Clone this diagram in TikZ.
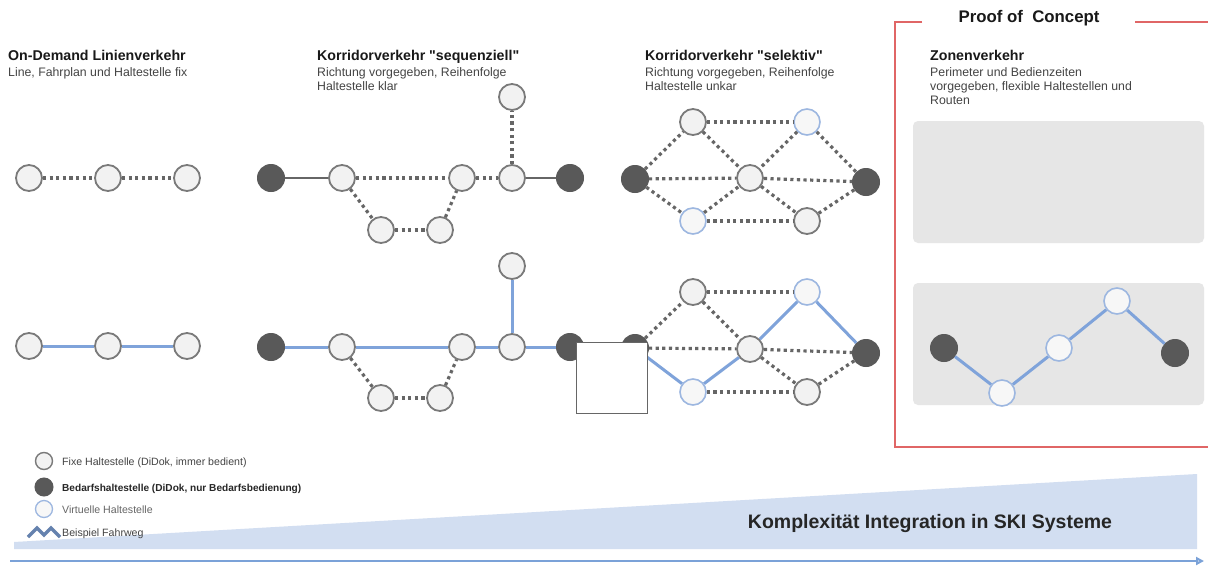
\documentclass[tikz,border=0pt]{standalone}
\usepackage{fontspec}
\setmainfont{Liberation Sans}[Ligatures=TeXOff]
\usetikzlibrary{arrows.meta}
\definecolor{stopfill}{HTML}{F2F2F2}
\definecolor{stopline}{HTML}{7A7A7A}
\definecolor{darkstop}{HTML}{595959}
\definecolor{virtline}{HTML}{9DB7E0}
\definecolor{routeblue}{HTML}{7FA3DA}
\definecolor{linkgray}{HTML}{666666}
\definecolor{zonegray}{HTML}{E6E6E6}
\definecolor{pocred}{HTML}{E06666}
\definecolor{wedgeblue}{HTML}{D2DEF1}
\definecolor{arrowblue}{HTML}{7BA2D8}
\definecolor{subtext}{HTML}{444444}
\tikzset{
  fixstop/.style={circle, minimum size=26pt, inner sep=0pt, line width=1.8pt, draw=stopline, fill=stopfill},
  demandstop/.style={circle, minimum size=27pt, inner sep=0pt, line width=1pt, draw=darkstop, fill=darkstop},
  virtstop/.style={circle, minimum size=26pt, inner sep=0pt, line width=1.6pt, draw=virtline, fill=stopfill!60!white},
  optlink/.style={draw=linkgray, line width=3.2pt, dash pattern=on 3.2pt off 3.4pt},
  fixlink/.style={draw=linkgray, line width=2.8pt},
  route/.style={draw=routeblue, line width=3pt},
  headline/.style={anchor=base west, inner sep=0pt, font=\fontsize{14.2}{17}\selectfont\bfseries, text=black!90},
  subline/.style={anchor=base west, inner sep=0pt, font=\fontsize{12.3}{14}\selectfont, text=subtext},
  legtext/.style={anchor=base west, inner sep=0pt, font=\fontsize{10.6}{12}\selectfont, text=subtext},
  zonebox/.style={fill=zonegray, draw=none, rounded corners=5pt},
}
\begin{document}
\begin{tikzpicture}[x=1pt, y=-1pt]
\useasboundingbox (0,0) rectangle (1208,568);
\fill[white] (0,0) rectangle (1208,568);

% ---------- complexity wedge (background) ----------
\fill[wedgeblue] (14,542) -- (1197,474) -- (1197,549) -- (14,549) -- cycle;
\node[font=\fontsize{19.5}{22}\selectfont\bfseries, text=black!85] (cx) at (930,523) {Komplexität Integration in SKI Systeme};
\coordinate (ax0) at (10,561);
\coordinate (ax1) at (1204,561);
\draw[arrowblue, line width=2.2pt, -{Triangle[open, length=8pt, width=8pt]}] (ax0) -- (ax1);

% ---------- headings ----------
\node[headline] (h1) at (8,60) {On-Demand Linienverkehr};
\node[subline] (h1a) at (8,76) {Line, Fahrplan und Haltestelle fix};
\node[headline] (h2) at (317,60) {Korridorverkehr "sequenziell"};
\node[subline] (h2a) at (317,76) {Richtung vorgegeben, Reihenfolge};
\node[subline] (h2b) at (317,90) {Haltestelle klar};
\node[headline] (h3) at (645,60) {Korridorverkehr "selektiv"};
\node[subline] (h3a) at (645,76) {Richtung vorgegeben, Reihenfolge};
\node[subline] (h3b) at (645,90) {Haltestelle unkar};
\node[headline] (h4) at (930,60) {Zonenverkehr};
\node[subline] (h4a) at (930,76) {Perimeter und Bedienzeiten};
\node[subline] (h4b) at (930,90) {vorgegeben, flexible Haltestellen und};
\node[subline] (h4c) at (930,104) {Routen};

% ---------- proof of concept frame ----------
\node[font=\fontsize{16.8}{20}\selectfont\bfseries, text=black!90] (poc) at (1029,18) {Proof of\ \ Concept};
\draw[pocred, line width=2pt] (922,22) -- (895,22) -- (895,447) -- (1208,447);
\draw[pocred, line width=2pt] (1135,22) -- (1208,22);
\fill[zonebox] (913,121) rectangle (1204,243);
\fill[zonebox] (913,283) rectangle (1204,405);

% ---------- line service ----------
\node[fixstop] (a1) at (29,178) {};
\node[fixstop] (a2) at (108,178) {};
\node[fixstop] (a3) at (187,178) {};
\draw[optlink] (a1) -- (a2);
\draw[optlink] (a2) -- (a3);
\node[fixstop] (b1) at (29,346) {};
\node[fixstop] (b2) at (108,346) {};
\node[fixstop] (b3) at (187,346) {};
\draw[route] (b1) -- (b2);
\draw[route] (b2) -- (b3);

% ---------- sequential corridor ----------
\node[demandstop] (c1) at (271,178) {};
\node[fixstop] (c2) at (342,178) {};
\node[fixstop] (c3) at (462,178) {};
\node[fixstop] (c4) at (512,178) {};
\node[demandstop] (c5) at (570,178) {};
\node[fixstop] (c6) at (512,97) {};
\node[fixstop] (c7) at (381,230) {};
\node[fixstop] (c8) at (440,230) {};
\draw[fixlink] (c1) -- (c2);
\draw[optlink] (c2) -- (c3);
\draw[optlink] (c3) -- (c4);
\draw[fixlink] (c4) -- (c5);
\draw[optlink] (c4) -- (c6);
\draw[optlink] (c2) -- (c7);
\draw[optlink] (c7) -- (c8);
\draw[optlink] (c8) -- (c3);

\node[demandstop] (d1) at (271,347) {};
\node[fixstop] (d2) at (342,347) {};
\node[fixstop] (d3) at (462,347) {};
\node[fixstop] (d4) at (512,347) {};
\node[demandstop] (d5) at (570,347) {};
\node[fixstop] (d6) at (512,266) {};
\node[fixstop] (d7) at (381,398) {};
\node[fixstop] (d8) at (440,398) {};
\draw[route] (d1) -- (d2);
\draw[route] (d2) -- (d3);
\draw[route] (d3) -- (d4);
\draw[route] (d4) -- (d5);
\draw[route] (d4) -- (d6);
\draw[optlink] (d2) -- (d7);
\draw[optlink] (d7) -- (d8);
\draw[optlink] (d8) -- (d3);

% ---------- selective corridor ----------
\node[demandstop] (e1) at (635,179) {};
\node[fixstop] (e2) at (693,122) {};
\node[virtstop] (e3) at (807,122) {};
\node[fixstop] (e4) at (750,178) {};
\node[virtstop] (e5) at (693,221) {};
\node[fixstop] (e6) at (807,221) {};
\node[demandstop] (e7) at (866,182) {};
\foreach \u/\v in {e1/e2, e1/e4, e1/e5, e2/e3, e2/e4, e3/e4, e3/e7, e4/e7, e4/e6, e5/e4, e5/e6, e6/e7}
  \draw[optlink] (\u) -- (\v);

\node[demandstop] (f1) at (635,348) {};
\node[fixstop] (f2) at (693,292) {};
\node[virtstop] (f3) at (807,292) {};
\node[fixstop] (f4) at (750,349) {};
\node[virtstop] (f5) at (693,392) {};
\node[fixstop] (f6) at (807,392) {};
\node[demandstop] (f7) at (866,353) {};
\foreach \u/\v in {f1/f2, f1/f4, f2/f3, f2/f4, f4/f7, f4/f6, f5/f6, f6/f7}
  \draw[optlink] (\u) -- (\v);
\foreach \u/\v in {f1/f5, f5/f4, f4/f3, f3/f7}
  \draw[route] (\u) -- (\v);

% blank panel over the corridor junction
\node[draw=linkgray, fill=white, line width=1pt, minimum width=71pt, minimum height=71pt, inner sep=0pt] (blank) at (611.5,377.5) {};

% ---------- zone service ----------
\node[demandstop] (g1) at (944,348) {};
\node[virtstop] (g2) at (1002,393) {};
\node[virtstop] (g3) at (1059,348) {};
\node[virtstop] (g4) at (1117,301) {};
\node[demandstop] (g5) at (1175,353) {};
\draw[route] (g1) -- (g2);
\draw[route] (g2) -- (g3);
\draw[route] (g3) -- (g4);
\draw[route] (g4) -- (g5);

% ---------- legend ----------
\node[fixstop, minimum size=17pt, line width=1.4pt] (l1) at (44,461) {};
\node[legtext] (l1t) at (62,465) {Fixe Haltestelle (DiDok, immer bedient)};
\node[demandstop, minimum size=18pt] (l2) at (44,487) {};
\node[legtext, font=\fontsize{10.1}{12}\selectfont\bfseries, text=black!85] (l2t) at (62,491) {Bedarfshaltestelle (DiDok, nur Bedarfsbedienung)};
\node[virtstop, minimum size=17pt, line width=1.3pt] (l3) at (44,509) {};
\node[legtext, text=black!60] (l3t) at (62,513) {Virtuelle Haltestelle};
\coordinate (z0) at (28,537);
\coordinate (z1) at (37,528);
\coordinate (z2) at (44,535);
\coordinate (z3) at (51,528);
\coordinate (z4) at (60,537);
\draw[routeblue!80!black, line width=3.2pt, line join=miter] (z0) -- (z1) -- (z2) -- (z3) -- (z4);
\node[legtext] (l4t) at (62,536) {Beispiel Fahrweg};
\end{tikzpicture}
\end{document}
